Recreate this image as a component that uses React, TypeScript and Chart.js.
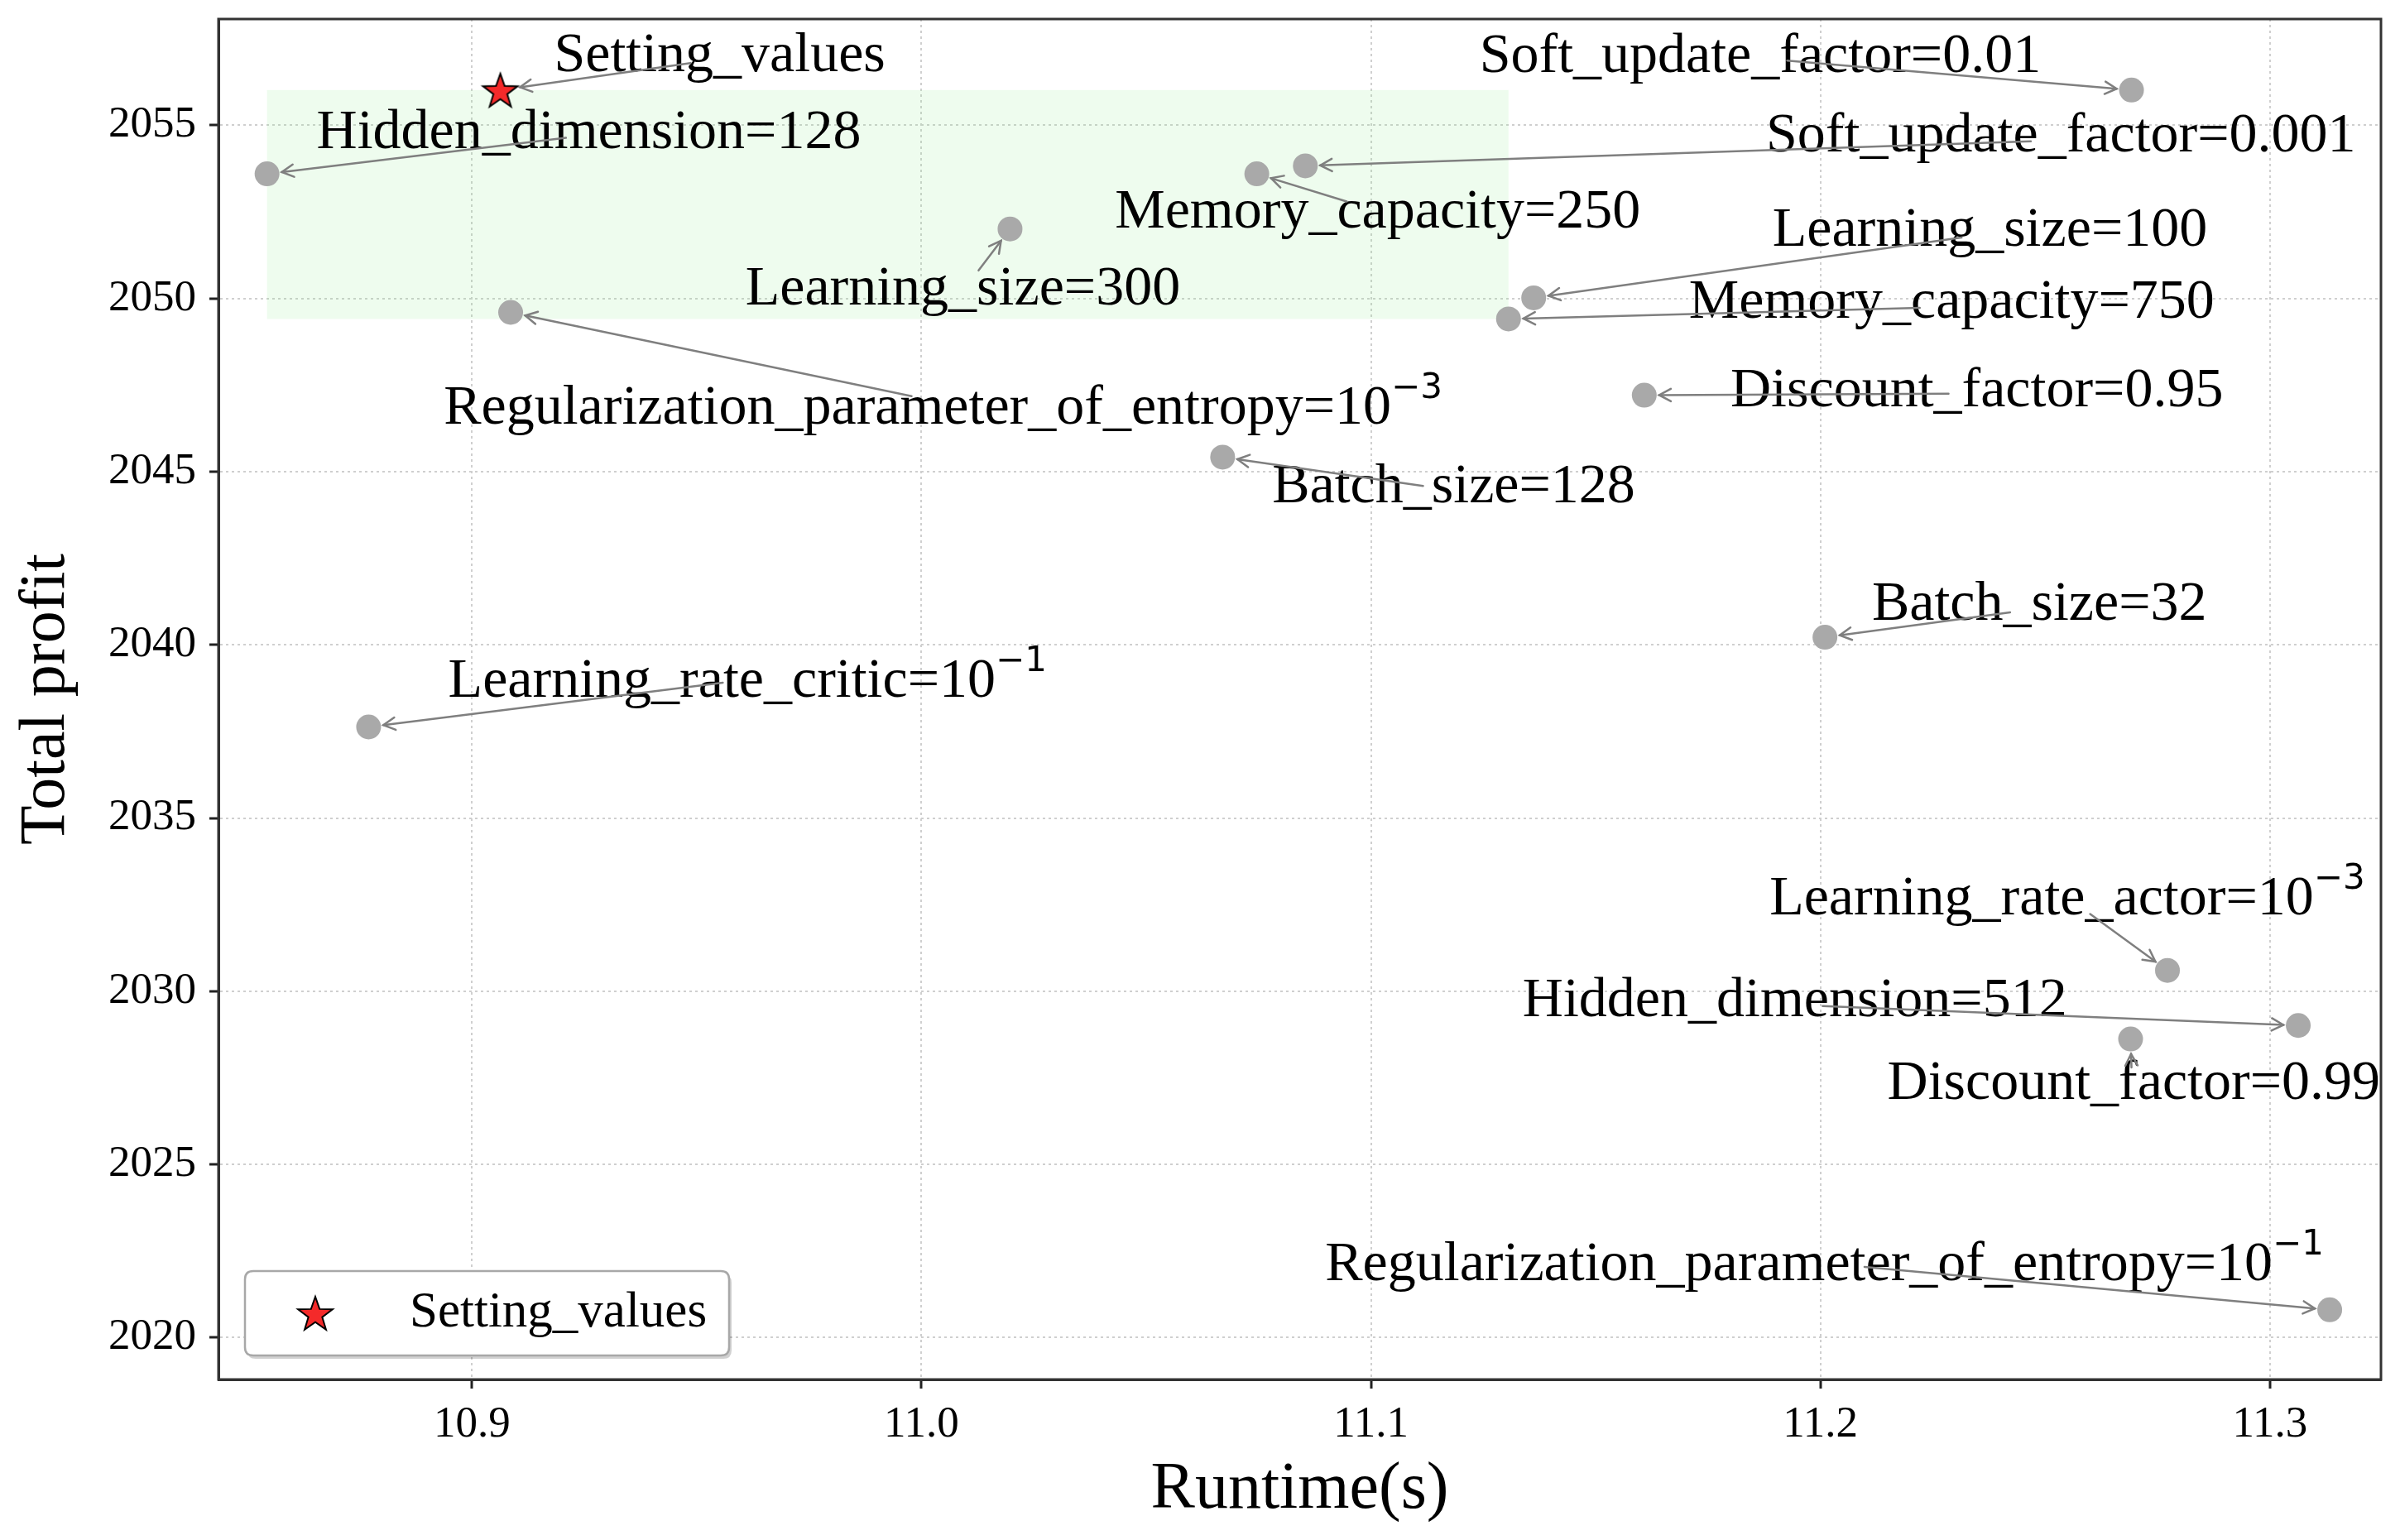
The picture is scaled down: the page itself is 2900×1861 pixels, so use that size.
import React, { useEffect, useRef } from "react";
import { Chart, registerables } from "chart.js";

Chart.register(...registerables);

// ---------- data ----------
const xTicks = [10.9, 11.0, 11.1, 11.2, 11.3];
const yTicks = [2020, 2025, 2030, 2035, 2040, 2045, 2050, 2055];
const xRange = [10.8436, 11.3247];
const yRange = [2018.79, 2058.07];

const settingName = "Setting_values";
const settingRuntime = [10.9063];
const settingProfit = [2056.02];
const settingLabelPos = [10.9551, 2056.57];
const settingArrowTail = [10.9486, 2056.8];

const paramMain = [
  "Hidden_dimension=128",
  "Soft_update_factor=0.01",
  "Soft_update_factor=0.001",
  "Memory_capacity=250",
  "Learning_size=300",
  "Learning_size=100",
  "Memory_capacity=750",
  "Regularization_parameter_of_entropy=10",
  "Discount_factor=0.95",
  "Batch_size=128",
  "Batch_size=32",
  "Learning_rate_critic=10",
  "Learning_rate_actor=10",
  "Hidden_dimension=512",
  "Discount_factor=0.99",
  "Regularization_parameter_of_entropy=10",
];
const paramSup = ["", "", "", "", "", "", "", "−3", "", "", "", "−1", "−3", "", "", "−1"];

const paramRuntime = [
  10.8544, 11.2692, 11.0854, 11.0746, 11.0197, 11.1362, 11.1306, 10.9086,
  11.1608, 11.067, 11.201, 10.877, 11.2772, 11.3063, 11.269, 11.3133,
];
const paramProfit = [
  2053.6, 2056.02, 2053.83, 2053.6, 2052.01, 2050.02, 2049.41, 2049.6,
  2047.21, 2045.42, 2040.22, 2037.63, 2030.6, 2029.01, 2028.62, 2020.8,
];

// label text positions (centre x, baseline y) in data units
const labelX = [
  10.926, 11.1866, 11.2535, 11.1015, 11.0092, 11.2377, 11.2292, 11.0048,
  11.2348, 11.1184, 11.2487, 10.9613, 11.2549, 11.1943, 11.2697, 11.2009,
];
const labelY = [
  2054.35, 2056.55, 2054.25, 2052.04, 2049.82, 2051.52, 2049.45, 2046.38,
  2046.9, 2044.12, 2040.72, 2038.49, 2032.21, 2029.28, 2026.9, 2021.65,
];
// arrow start points in data units
const tailX = [
  10.9209, 11.1926, 11.2468, 11.0946, 11.0127, 11.2314, 11.2221, 10.9978,
  11.2285, 11.1116, 11.2422, 10.9558, 11.26, 11.2005, 11.2692, 11.2098,
];
const tailY = [
  2054.64, 2056.87, 2054.54, 2052.8, 2050.81, 2051.76, 2049.73, 2047.18,
  2047.25, 2044.59, 2040.94, 2038.91, 2032.23, 2029.57, 2027.8, 2022.04,
];

// highlighted region
const highlightX = [10.8544, 11.1306];
const highlightY = [2049.41, 2056.02];

// ---------- helpers ----------
const SERIF = '"Liberation Serif", "Times New Roman", serif';

function drawStar(ctx: CanvasRenderingContext2D, x: number, y: number, R: number) {
  const r = R * 0.4;
  ctx.save();
  ctx.beginPath();
  for (let i = 0; i < 10; i++) {
    const rad = i % 2 === 0 ? R : r;
    const a = -Math.PI / 2 + (i * Math.PI) / 5;
    const px = x + rad * Math.cos(a);
    const py = y + rad * Math.sin(a);
    if (i === 0) ctx.moveTo(px, py);
    else ctx.lineTo(px, py);
  }
  ctx.closePath();
  ctx.fillStyle = "#f42a2a";
  ctx.fill();
  ctx.lineWidth = 2;
  ctx.strokeStyle = "#000";
  ctx.stroke();
  ctx.restore();
}

function makeStarCanvas(R: number) {
  const c = document.createElement("canvas");
  const s = Math.ceil(R * 2 + 6);
  c.width = s;
  c.height = s;
  const ctx = c.getContext("2d")!;
  drawStar(ctx, s / 2, s / 2 + R * 0.1, R);
  return c;
}

function drawArrow(
  ctx: CanvasRenderingContext2D,
  x0: number,
  y0: number,
  x1: number,
  y1: number,
  shrink: number
) {
  const dx = x1 - x0;
  const dy = y1 - y0;
  const len = Math.hypot(dx, dy);
  if (len < 1) return;
  const ux = dx / len;
  const uy = dy / len;
  const ex = x1 - ux * shrink;
  const ey = y1 - uy * shrink;
  ctx.save();
  ctx.strokeStyle = "#7f7f7f";
  ctx.lineWidth = 2.5;
  ctx.lineCap = "round";
  ctx.beginPath();
  ctx.moveTo(x0, y0);
  ctx.lineTo(ex, ey);
  ctx.stroke();
  const hl = 16;
  const ang = (28 * Math.PI) / 180;
  const bx = -ux;
  const by = -uy;
  const c = Math.cos(ang);
  const s = Math.sin(ang);
  ctx.beginPath();
  ctx.moveTo(ex + hl * (bx * c - by * s), ey + hl * (bx * s + by * c));
  ctx.lineTo(ex, ey);
  ctx.lineTo(ex + hl * (bx * c + by * s), ey + hl * (-bx * s + by * c));
  ctx.stroke();
  ctx.restore();
}

function drawLabel(
  ctx: CanvasRenderingContext2D,
  main: string,
  sup: string,
  cx: number,
  by: number
) {
  ctx.save();
  ctx.fillStyle = "#000";
  ctx.textAlign = "left";
  ctx.textBaseline = "alphabetic";
  ctx.font = `68px ${SERIF}`;
  const wMain = ctx.measureText(main).width;
  let wSup = 0;
  const gap = 0;
  if (sup) {
    ctx.font = `42px "DejaVu Sans"`;
    wSup = ctx.measureText(sup).width + gap;
  }
  const x0 = cx - (wMain + wSup) / 2;
  ctx.font = `68px ${SERIF}`;
  ctx.fillText(main, x0, by);
  if (sup) {
    ctx.font = `42px "DejaVu Sans"`;
    ctx.fillText(sup, x0 + wMain + gap, by - 31);
  }
  ctx.restore();
}

export default function App() {
  const canvasRef = useRef<HTMLCanvasElement | null>(null);

  useEffect(() => {
    if (!canvasRef.current) return;
    const starImg = makeStarCanvas(22);

    const overlay = {
      id: "overlay",
      beforeDatasetsDraw(chart: any) {
        const { ctx } = chart;
        const xs = chart.scales.x;
        const ys = chart.scales.y;
        const l = xs.getPixelForValue(highlightX[0]);
        const r = xs.getPixelForValue(highlightX[1]);
        const t = ys.getPixelForValue(highlightY[1]);
        const b = ys.getPixelForValue(highlightY[0]);
        ctx.save();
        ctx.fillStyle = "rgba(144, 238, 144, 0.15)";
        ctx.fillRect(l, t, r - l, b - t);
        ctx.restore();
      },
      afterDatasetsDraw(chart: any) {
        const { ctx, chartArea } = chart;
        const xs = chart.scales.x;
        const ys = chart.scales.y;

        // labels
        drawLabel(
          ctx,
          settingName,
          "",
          xs.getPixelForValue(settingLabelPos[0]),
          ys.getPixelForValue(settingLabelPos[1])
        );
        for (let i = 0; i < paramMain.length; i++) {
          drawLabel(
            ctx,
            paramMain[i],
            paramSup[i],
            xs.getPixelForValue(labelX[i]),
            ys.getPixelForValue(labelY[i])
          );
        }
        // arrows
        drawArrow(
          ctx,
          xs.getPixelForValue(settingArrowTail[0]),
          ys.getPixelForValue(settingArrowTail[1]),
          xs.getPixelForValue(settingRuntime[0]),
          ys.getPixelForValue(settingProfit[0]),
          24
        );
        for (let i = 0; i < paramMain.length; i++) {
          drawArrow(
            ctx,
            xs.getPixelForValue(tailX[i]),
            ys.getPixelForValue(tailY[i]),
            xs.getPixelForValue(paramRuntime[i]),
            ys.getPixelForValue(paramProfit[i]),
            18
          );
        }

        // frame
        ctx.save();
        ctx.strokeStyle = "#333";
        ctx.lineWidth = 3;
        ctx.strokeRect(
          chartArea.left,
          chartArea.top,
          chartArea.right - chartArea.left,
          chartArea.bottom - chartArea.top
        );
        ctx.restore();

        // legend
        const bw = 585;
        const bh = 102;
        const bl = chartArea.left + 32;
        const bt = chartArea.bottom - 29 - bh;
        const rad = 10;
        const rr = (x: number, y: number) => {
          ctx.beginPath();
          ctx.moveTo(x + rad, y);
          ctx.lineTo(x + bw - rad, y);
          ctx.quadraticCurveTo(x + bw, y, x + bw, y + rad);
          ctx.lineTo(x + bw, y + bh - rad);
          ctx.quadraticCurveTo(x + bw, y + bh, x + bw - rad, y + bh);
          ctx.lineTo(x + rad, y + bh);
          ctx.quadraticCurveTo(x, y + bh, x, y + bh - rad);
          ctx.lineTo(x, y + rad);
          ctx.quadraticCurveTo(x, y, x + rad, y);
          ctx.closePath();
        };
        ctx.save();
        rr(bl + 3, bt + 4);
        ctx.fillStyle = "rgba(0,0,0,0.18)";
        ctx.fill();
        rr(bl, bt);
        ctx.fillStyle = "#fff";
        ctx.fill();
        ctx.lineWidth = 2.5;
        ctx.strokeStyle = "#a8a8a8";
        ctx.stroke();
        drawStar(ctx, bl + 85, bt + bh / 2 + 2, 22);
        ctx.fillStyle = "#000";
        ctx.font = `61px ${SERIF}`;
        ctx.textAlign = "left";
        ctx.textBaseline = "alphabetic";
        ctx.fillText(settingName, bl + 199, bt + bh / 2 + 16);
        ctx.restore();
      },
    };

    const gridCommon = {
      color: "#cfcfcf",
      lineWidth: 2,
      tickColor: "#222",
      tickWidth: 3,
      tickLength: 11,
      tickBorderDash: [],
    };
    const borderCommon = { display: true, color: "#333", width: 3, dash: [3, 4] };

    const chart = new Chart(canvasRef.current, {
      type: "scatter",
      data: {
        datasets: [
          {
            label: settingName,
            data: settingRuntime.map((x, i) => ({ x, y: settingProfit[i] })),
            pointStyle: starImg as any,
            pointRadius: 22,
          },
          {
            label: "Parameters",
            data: paramRuntime.map((x, i) => ({ x, y: paramProfit[i] })),
            pointRadius: 15,
            backgroundColor: "#a9a9a9",
            borderWidth: 0,
          },
        ],
      },
      options: {
        animation: false,
        responsive: true,
        maintainAspectRatio: false,
        devicePixelRatio: 1,
        layout: { padding: { left: 0, top: 20, right: 21, bottom: 0 } },
        plugins: {
          legend: { display: false },
          tooltip: { enabled: false },
        },
        scales: {
          x: {
            type: "linear",
            min: xRange[0],
            max: xRange[1],
            afterBuildTicks: (scale: any) => {
              scale.ticks = xTicks.map((v) => ({ value: v }));
            },
            afterFit: (scale: any) => {
              scale.height = 194;
              scale.paddingLeft = 0;
              scale.paddingRight = 0;
            },
            grid: gridCommon as any,
            border: borderCommon as any,
            ticks: {
              callback: (v: any) => Number(v).toFixed(1),
              font: { family: SERIF, size: 53 },
              color: "#000",
              padding: 12,
              maxRotation: 0,
              autoSkip: false,
            },
            title: {
              display: true,
              text: "Runtime(s)",
              font: { family: SERIF, size: 80, lineHeight: 1.1 },
              color: "#000",
              padding: { top: 0, bottom: 16 },
            },
          },
          y: {
            type: "linear",
            min: yRange[0],
            max: yRange[1],
            afterBuildTicks: (scale: any) => {
              scale.ticks = yTicks.map((v) => ({ value: v }));
            },
            afterFit: (scale: any) => {
              scale.width = 264;
              scale.paddingTop = 0;
              scale.paddingBottom = 0;
            },
            grid: gridCommon as any,
            border: borderCommon as any,
            ticks: {
              callback: (v: any) => String(v),
              font: { family: SERIF, size: 53 },
              color: "#000",
              padding: 16,
              autoSkip: false,
            },
            title: {
              display: true,
              text: "Total profit",
              font: { family: SERIF, size: 78, lineHeight: 1.1 },
              color: "#000",
              padding: { top: 14, bottom: 0 },
            },
          },
        },
      },
      plugins: [overlay],
    });

    return () => chart.destroy();
  }, []);

  return (
    <div
      style={{
        position: "absolute",
        left: 0,
        top: 0,
        width: 2900,
        height: 1861,
        background: "#fff",
      }}
    >
      <canvas ref={canvasRef} />
    </div>
  );
}
